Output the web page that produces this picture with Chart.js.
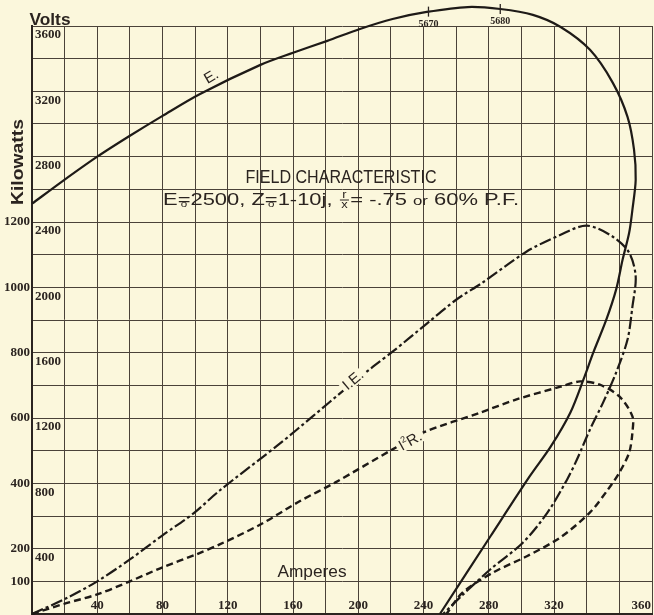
<!DOCTYPE html>
<html>
<head>
<meta charset="utf-8">
<title>Field characteristic</title>
<script src="https://cdn.jsdelivr.net/npm/chart.js@4.4.1/dist/chart.umd.min.js"></script>
<style>
  html, body { margin: 0; padding: 0; background: #fbf7dc; }
  #wrap { width: 654px; height: 615px; }
</style>
</head>
<body>
<div id="wrap"><canvas id="field-chart" width="654" height="615"></canvas></div>
<script>
// curve E. (terminal volts against amperes)
const eAmps  = [0, 19, 40, 60, 80, 103, 140, 160, 181, 201, 221, 242, 267, 287, 307, 324, 342, 356, 365, 369,
                370, 368, 366, 362, 358, 352, 344, 338, 330, 318, 305, 281, 250];
const eVolts = [2512, 2652, 2800, 2928, 3050, 3184, 3362, 3436, 3509, 3582, 3643, 3686, 3716, 3704, 3668, 3594, 3454, 3252, 3044, 2842,
                2658, 2476, 2334, 2170, 1986, 1802, 1600, 1436, 1234, 1026, 842, 476, 0];

// curve I.E. (kilowatts)
const ieAmps = [0, 21, 40, 60, 80, 99, 115, 152, 172, 193, 209, 221, 242, 260, 276, 303, 324, 340, 356, 366,
                370, 368, 365, 358, 350, 342, 334, 328, 316, 301, 281, 263, 252];
const ieKw   = [0, 48, 100, 167, 241, 308, 378, 522, 605, 693, 757, 803, 889, 962, 1014, 1109, 1161, 1189, 1155, 1106,
                1033, 941, 840, 739, 647, 565, 473, 412, 311, 219, 137, 54, 0];

// curve I²R. (kilowatts)
const i2rAmps = [0, 21, 40, 60, 80, 101, 115, 140, 164, 186, 221, 240, 275, 297, 324, 336, 348, 360, 368, 368,
                 366, 360, 353, 342, 324, 303, 283, 264, 254];
const i2rKw   = [0, 33, 60, 100, 143, 183, 213, 274, 345, 403, 504, 556, 617, 657, 696, 712, 702, 666, 605, 556,
                 494, 433, 381, 311, 235, 176, 128, 66, 0];

// tick labels
const ampTicks  = [40, 80, 120, 160, 200, 240, 280, 320, 360];
const kwTicks   = [100, 200, 400, 600, 800, 1000, 1200];
const voltTicks = [400, 800, 1200, 1600, 2000, 2400, 2800, 3200, 3600];

// marks written on curve E.
const markAmps   = [243, 287];
const markVolts  = [3688, 3704];
const markLabels = ['5670', '5680'];

const bgColor = '#fbf7dc';
const inkColor = '#2b2420';
const gridColor = '#4a4239';
const serif = '"Liberation Serif", "DejaVu Serif", serif';
const sans = '"Liberation Sans", Arial, sans-serif';

function toPoints(xs, ys) {
  return xs.map((v, i) => ({ x: v, y: ys[i] }));
}

// draw text squeezed/stretched to a given width
function drawFitted(ctx, text, cx, base, font, width) {
  ctx.save();
  ctx.font = font;
  const w = ctx.measureText(text).width;
  ctx.translate(cx, base);
  ctx.scale(width / w, 1);
  ctx.textAlign = 'center';
  ctx.fillText(text, 0, 0);
  ctx.restore();
}

function drawSubtitle(ctx, cx, base, width) {
  const big = '17px ' + sans;
  const small = '10px ' + sans;
  const segs = [
    { t: 'E', f: big }, { t: '=', f: big, under: 'o' }, { t: '2500, Z', f: big },
    { t: '=', f: big, under: 'o' }, { t: '1-10j, ', f: big },
    { frac: ['r', 'x'] }, { t: '= -.75 ', f: big }, { t: 'or', f: '13px ' + sans },
    { t: ' 60% P.F.', f: big }
  ];
  const widths = segs.map(s => {
    if (s.frac) {
      ctx.font = small;
      return Math.max(...s.frac.map(c => ctx.measureText(c).width)) + 4;
    }
    ctx.font = s.f;
    return ctx.measureText(s.t).width;
  });
  const total = widths.reduce((p, c) => p + c, 0);
  ctx.save();
  ctx.translate(cx - width / 2, base);
  ctx.scale(width / total, 1);
  let px = 0;
  segs.forEach((s, i) => {
    const w = widths[i];
    if (s.frac) {
      ctx.font = small;
      ctx.textAlign = 'center';
      ctx.fillText(s.frac[0], px + w / 2, -7);
      ctx.fillRect(px + 1, -5.5, w - 2, 1);
      ctx.fillText(s.frac[1], px + w / 2, 3);
    } else {
      ctx.font = s.f;
      ctx.textAlign = 'left';
      ctx.fillText(s.t, px, 0);
      if (s.under) {
        ctx.font = '9px ' + sans;
        ctx.textAlign = 'center';
        ctx.fillText(s.under, px + w / 2, 2);
      }
    }
    px += w;
  });
  ctx.restore();
}

// text along a curve; knockout clears the line underneath first
function drawRotated(ctx, parts, px, py, deg, knockout) {
  ctx.save();
  ctx.translate(px, py);
  ctx.rotate(deg * Math.PI / 180);
  let total = 0;
  parts.forEach(p => { ctx.font = p.f; total += ctx.measureText(p.t).width; });
  if (knockout) {
    ctx.fillStyle = bgColor;
    ctx.fillRect(-total / 2 - 3, -6, total + 6, 12);
    ctx.fillStyle = inkColor;
  }
  let x = -total / 2;
  ctx.textAlign = 'left';
  ctx.textBaseline = 'middle';
  parts.forEach(p => {
    ctx.font = p.f;
    ctx.fillText(p.t, x, p.dy || 0);
    x += ctx.measureText(p.t).width;
  });
  ctx.restore();
}

const fieldNotes = {
  id: 'fieldNotes',
  beforeDraw(chart) {
    const ctx = chart.ctx;
    ctx.save();
    ctx.fillStyle = bgColor;
    ctx.fillRect(0, 0, chart.width, chart.height);
    ctx.restore();
  },
  afterDraw(chart) {
    const { ctx, chartArea } = chart;
    const sx = chart.scales.x, sy = chart.scales.y, sv = chart.scales.yV;
    ctx.save();
    ctx.fillStyle = inkColor;
    ctx.strokeStyle = inkColor;

    // ampere figures along the bottom row
    ctx.font = 'bold 13px ' + serif;
    ctx.textBaseline = 'alphabetic';
    ampTicks.forEach((a, i) => {
      const last = i === ampTicks.length - 1;
      ctx.textAlign = last ? 'right' : 'center';
      const px = last ? chartArea.right - 1 : sx.getPixelForValue(a);
      ctx.fillText(String(a), px, chartArea.bottom - 5);
    });

    // marks on curve E.
    ctx.lineWidth = 1.3;
    markAmps.forEach((a, i) => {
      const px = sx.getPixelForValue(a);
      const py = sv.getPixelForValue(markVolts[i]);
      ctx.beginPath();
      ctx.moveTo(px, py - 5);
      ctx.lineTo(px, py + 5);
      ctx.stroke();
      ctx.font = 'bold 10px ' + serif;
      ctx.textAlign = 'center';
      ctx.fillText(markLabels[i], px, py + 15);
    });

    // curve names
    const lf = '15px ' + sans;
    drawRotated(ctx, [{ t: 'E.', f: lf }], sx.getPixelForValue(110), sv.getPixelForValue(3289), -30, false);
    drawRotated(ctx, [{ t: 'I.E.', f: lf }], sx.getPixelForValue(197), sy.getPixelForValue(715), -40, true);
    drawRotated(ctx, [{ t: 'I', f: lf }, { t: '2', f: '9px ' + sans, dy: -5 }, { t: 'R.', f: lf }],
      sx.getPixelForValue(232), sy.getPixelForValue(528), -29, true);

    // titles
    ctx.textBaseline = 'alphabetic';
    drawFitted(ctx, 'FIELD CHARACTERISTIC', 341, 183, '18px ' + sans, 191);
    drawSubtitle(ctx, 341, 205, 356);
    drawFitted(ctx, 'Amperes', 312, 577, '16px ' + sans, 69);
    drawFitted(ctx, 'Volts', 50, 25, 'bold 17px ' + sans, 41);

    ctx.save();
    ctx.translate(23, 162);
    ctx.rotate(-Math.PI / 2);
    drawFitted(ctx, 'Kilowatts', 0, 0, 'bold 17px ' + sans, 86);
    ctx.restore();

    ctx.restore();
  }
};

function noPadding(scale) {
  scale.paddingTop = 0;
  scale.paddingBottom = 0;
  scale.paddingLeft = 0;
  scale.paddingRight = 0;
}

new Chart(document.getElementById('field-chart'), {
  type: 'scatter',
  data: {
    datasets: [
      {
        label: 'E.',
        data: toPoints(eAmps, eVolts),
        yAxisID: 'yV',
        showLine: true,
        borderColor: '#1e1a17',
        borderWidth: 2.2,
        pointRadius: 0,
        tension: 0.3,
        clip: false
      },
      {
        label: 'I.E.',
        data: toPoints(ieAmps, ieKw),
        yAxisID: 'y',
        showLine: true,
        borderColor: '#1e1a17',
        borderWidth: 2.2,
        borderDash: [12, 3, 3, 3],
        pointRadius: 0,
        tension: 0.3,
        clip: false
      },
      {
        label: 'I²R.',
        data: toPoints(i2rAmps, i2rKw),
        yAxisID: 'y',
        showLine: true,
        borderColor: '#1e1a17',
        borderWidth: 2.4,
        borderDash: [7, 4],
        pointRadius: 0,
        tension: 0.3,
        clip: false
      }
    ]
  },
  options: {
    responsive: false,
    animation: false,
    layout: { padding: { top: 26, right: 2, bottom: 1, left: 0 } },
    elements: { line: { capBezierPoints: false } },
    plugins: { legend: { display: false }, tooltip: { enabled: false } },
    scales: {
      x: {
        type: 'linear',
        min: 0,
        max: 380,
        ticks: { display: false, stepSize: 20 },
        grid: { color: gridColor, lineWidth: 1, drawTicks: false },
        border: { color: inkColor, width: 2 },
        afterFit(scale) { scale.height = 0; noPadding(scale); }
      },
      y: {
        type: 'linear',
        position: 'left',
        weight: 1,
        min: 0,
        max: 1800,
        ticks: {
          stepSize: 100,
          autoSkip: false,
          padding: 2,
          color: inkColor,
          font: { family: serif, size: 13, weight: 'bold' },
          callback: v => kwTicks.includes(v) ? String(v) : ''
        },
        grid: { color: gridColor, lineWidth: 1, drawTicks: false },
        border: { color: inkColor, width: 2 },
        afterFit(scale) { scale.width = 32; noPadding(scale); }
      },
      yV: {
        type: 'linear',
        position: 'left',
        weight: 0,
        min: 0,
        max: 3600,
        ticks: {
          stepSize: 200,
          autoSkip: false,
          mirror: true,
          padding: 3,
          labelOffset: 9,
          color: inkColor,
          font: { family: serif, size: 13, weight: 'bold' },
          callback: v => voltTicks.includes(v) ? String(v) : ''
        },
        grid: { display: false, drawTicks: false },
        border: { display: false },
        afterFit(scale) { scale.width = 0; noPadding(scale); }
      }
    }
  },
  plugins: [fieldNotes]
});
</script>
</body>
</html>
